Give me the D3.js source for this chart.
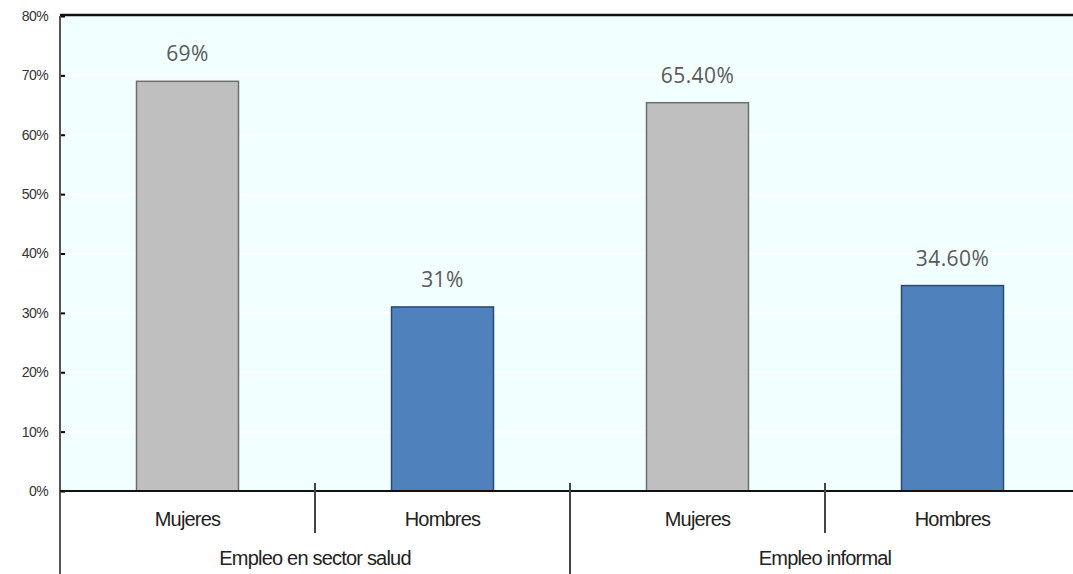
<!DOCTYPE html>
<html>
<head>
<meta charset="utf-8">
<script src="https://cdn.jsdelivr.net/npm/d3@7"></script>
<style>
  body { margin: 0; background: #fff; }
  text { font-family: "Liberation Sans Narrow", "Arial Narrow", "Liberation Sans", sans-serif; }
</style>
</head>
<body>
<svg id="chart" width="1073" height="574"></svg>
<script>
// data
var categories = ["Mujeres", "Hombres", "Mujeres", "Hombres"];
var groups = ["Empleo en sector salud", "Empleo informal"];
var values = [69, 31, 65.4, 34.6];
var valueLabels = ["69%", "31%", "65.40%", "34.60%"];
var barColors = ["#bfbfbf", "#4f81bd", "#bfbfbf", "#4f81bd"];
var strokeColors = ["#6e6e6e", "#2b4a6f", "#6e6e6e", "#2b4a6f"];
var yTicks = [0, 10, 20, 30, 40, 50, 60, 70, 80];

var svg = d3.select("#chart");
var plotLeft = 60, plotRight = 1080, plotTop = 16, plotBottom = 491;

var x = d3.scaleBand().domain(d3.range(categories.length)).range([plotLeft, plotRight]).paddingInner(0.6).paddingOuter(0.3);
var xCat = d3.scaleBand().domain(d3.range(categories.length)).range([plotLeft, plotRight]);
var y = d3.scaleLinear().domain([0, 80]).range([plotBottom, plotTop]);

// plot background
svg.append("rect")
	.attr("x", plotLeft).attr("y", plotTop)
	.attr("width", plotRight - plotLeft).attr("height", plotBottom - plotTop)
	.style("fill", "#f2ffff");

// gridlines
svg.append("g").selectAll("line")
	.data(yTicks.slice(1, -1))
	.enter().append("line")
	.attr("x1", plotLeft).attr("x2", plotRight)
	.attr("y1", function(d){ return y(d); }).attr("y2", function(d){ return y(d); })
	.style("stroke", "#ffffff").style("stroke-width", 2);

// bars
svg.append("g").selectAll("rect")
	.data(values)
	.enter().append("rect")
	.attr("x", function(d, i){ return x(i); })
	.attr("y", function(d){ return y(d); })
	.attr("width", x.bandwidth())
	.attr("height", function(d){ return plotBottom - y(d); })
	.style("fill", function(d, i){ return barColors[i]; })
	.style("stroke", function(d, i){ return strokeColors[i]; })
	.style("stroke-width", 1.5);

// value labels
svg.append("g").selectAll("text")
	.data(values)
	.enter().append("text")
	.attr("x", function(d, i){ return x(i) + x.bandwidth() / 2; })
	.attr("y", function(d){ return y(d) - 20; })
	.attr("text-anchor", "middle")
	.style("font-family", "'Open Sans', 'Noto Sans', sans-serif")
	.style("font-size", "21px")
	.style("letter-spacing", "0.4px")
	.style("fill", "#595959")
	.text(function(d, i){ return valueLabels[i]; });

// y axis
var yAxis = d3.axisLeft(y).tickValues(yTicks).tickSize(-5).tickPadding(12)
	.tickFormat(function(d){ return d + "%"; });
var yg = svg.append("g").attr("transform", "translate(" + plotLeft + ",0)").call(yAxis);
yg.select(".domain").remove();
yg.selectAll(".tick line").style("stroke", "#000").style("stroke-width", 2);
yg.selectAll(".tick text").style("font-size", "14px").style("fill", "#333")
	.style("letter-spacing", "-0.6px")
	.style("font-family", "'Liberation Sans Narrow', 'Arial Narrow', 'Liberation Sans', sans-serif");

// left axis line (extends down through label area)
svg.append("line").attr("x1", plotLeft).attr("x2", plotLeft).attr("y1", plotTop).attr("y2", 574)
	.style("stroke", "#555").style("stroke-width", 2);

// top border
svg.append("line").attr("x1", plotLeft).attr("x2", plotRight).attr("y1", plotTop - 1).attr("y2", plotTop - 1)
	.style("stroke", "#111").style("stroke-width", 2.5);

// baseline
svg.append("line").attr("x1", plotLeft).attr("x2", plotRight).attr("y1", plotBottom).attr("y2", plotBottom)
	.style("stroke", "#111").style("stroke-width", 2);

// category separators
svg.append("g").selectAll("line")
	.data([1, 2, 3])
	.enter().append("line")
	.attr("x1", function(d){ return xCat(d); }).attr("x2", function(d){ return xCat(d); })
	.attr("y1", 483)
	.attr("y2", function(d){ return d === 2 ? 574 : 533; })
	.style("stroke", "#444").style("stroke-width", 2);

// category labels
svg.append("g").selectAll("text")
	.data(categories)
	.enter().append("text")
	.attr("x", function(d, i){ return xCat(i) + xCat.bandwidth() / 2; })
	.attr("y", 526)
	.attr("text-anchor", "middle")
	.style("font-size", "20px").style("letter-spacing", "-0.8px").style("fill", "#222")
	.text(function(d){ return d; });

// group labels
svg.append("g").selectAll("text")
	.data(groups)
	.enter().append("text")
	.attr("x", function(d, i){ return xCat(i * 2) + xCat.bandwidth(); })
	.attr("y", 565)
	.attr("text-anchor", "middle")
	.style("font-size", "20px").style("letter-spacing", "-0.8px").style("fill", "#222")
	.text(function(d){ return d; });
</script>
</body>
</html>
